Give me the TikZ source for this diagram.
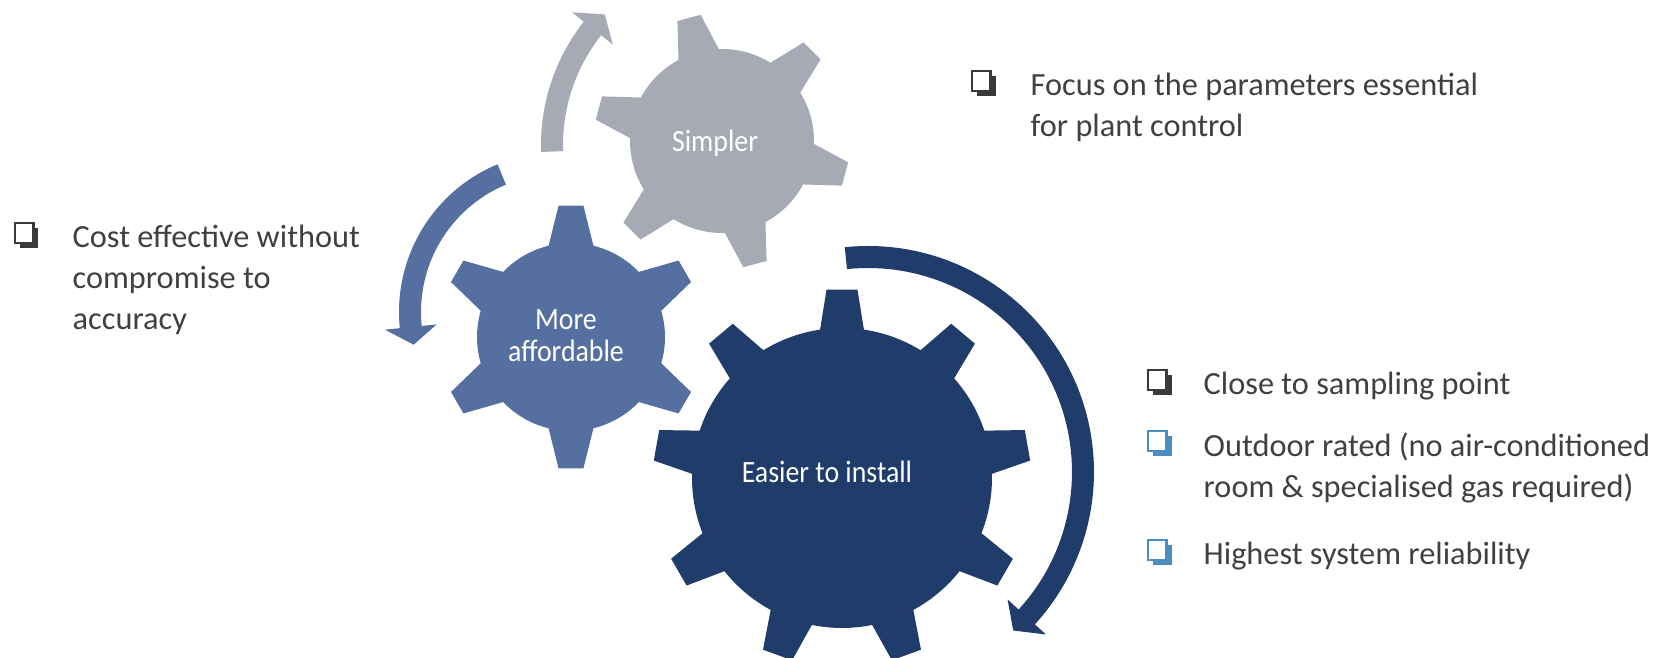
\documentclass[tikz,border=0pt]{standalone}
\usepackage{fontspec}
\setmainfont{Carlito}
\newfontfamily\gearfont{Carlito}[FakeStretch=0.9]
\definecolor{gearlight}{RGB}{166,170,181}
\definecolor{gearmid}{RGB}{85,112,160}
\definecolor{geardark}{RGB}{31,60,106}
\definecolor{textgray}{RGB}{64,64,64}
\definecolor{bulletdark}{RGB}{58,58,58}
\definecolor{bulletblue}{RGB}{74,142,192}

\tikzset{
  item/.style={anchor=base west, align=left, inner sep=0pt, text=textgray,
    font=\fontsize{9.2}{11.8}\selectfont},
  gearlabel/.style={anchor=base, align=center, inner sep=0pt, text=white,
    font=\gearfont\fontsize{8.8}{9.2}\selectfont},
  qbox/.pic={
    \fill (0.05,-0.05) rectangle (0.235,0.15);
    \filldraw[fill=white, line width=0.8pt] (0,0) rectangle (0.185,0.20);
  }
}

\begin{document}
\begin{tikzpicture}

\useasboundingbox (0,0) rectangle (16.79,6.58);

% Circular arrows (shaft half width 0.11, head half width 0.26)
\fill[gearlight, shift={(7.40,5.13)}]
  (182:1.99) arc[start angle=182, end angle=141.7, radius=1.99]
  -- (141.7:2.14) -- (136:1.88) -- (141.7:1.62) -- (141.7:1.77)
  arc[start angle=141.7, end angle=182, radius=1.77] -- cycle;

\fill[gearmid, shift={(5.59,3.46)}]
  (112.6:1.60) arc[start angle=112.6, end angle=185.8, radius=1.60]
  -- (185.8:1.75) -- (192.7:1.49) -- (185.8:1.23) -- (185.8:1.38)
  arc[start angle=185.8, end angle=112.6, radius=1.38] -- cycle;

\fill[geardark, shift={(8.68,1.86)}]
  (95.9:2.26) arc[start angle=95.9, end angle=-42.4, radius=2.26]
  -- (-42.4:2.41) -- (-47.5:2.15) -- (-42.4:1.89) -- (-42.4:2.04)
  arc[start angle=-42.4, end angle=95.9, radius=2.04] -- cycle;

% Gear: simpler, 6 teeth
\fill[gearlight, shift={(7.22,5.17)}]
  (92:0.92)
  \foreach \a in {105,165,...,405} {
    -- (\a-5.4:1.28) -- (\a+5.4:1.28) -- (\a+13.2:0.92)
    arc[start angle=\a+13.2, end angle=\a+46.8, radius=0.92]
  } -- cycle;

% Gear: more affordable, 6 teeth
\fill[gearmid, shift={(5.71,3.21)}]
  (76.2:0.94)
  \foreach \a in {90,150,...,390} {
    -- (\a-5.4:1.32) -- (\a+5.4:1.32) -- (\a+13.8:0.94)
    arc[start angle=\a+13.8, end angle=\a+46.2, radius=0.94]
  } -- cycle;

% Gear: easier to install, 9 teeth
\fill[geardark, shift={(8.42,1.80)}]
  (81.6:1.50)
  \foreach \a in {90,130,...,410} {
    -- (\a-4.7:1.89) -- (\a+4.7:1.89) -- (\a+8.4:1.50)
    arc[start angle=\a+8.4, end angle=\a+31.6, radius=1.50]
  } -- cycle;

% Labels inside gears (base = last line)
\node[gearlabel] (simpler) at (7.15,5.06) {Simpler};
\node[gearlabel] (affordable) at (5.66,2.96) {More\\affordable};
\node[gearlabel] (install) at (8.27,1.75) {Easier to install};

% Bullet texts (base = last line)
\node[item] (cost) at (0.72,3.28) {Cost effective without\\compromise to\\accuracy};
\node[item] (focus) at (10.30,5.21) {Focus on the parameters essential\\for plant control};
\node[item] (close) at (12.03,2.63) {Close to sampling point};
\node[item] (outdoor) at (12.03,1.60) {Outdoor rated (no air-conditioned\\room \& specialised gas required)};
\node[item] (highest) at (12.03,0.93) {Highest system reliability};

% Bullets, level with the first line
\pic[color=bulletdark] at ([shift={(-0.57,0.87)}]cost.base west) {qbox};
\pic[color=bulletdark] at ([shift={(-0.58,0.46)}]focus.base west) {qbox};
\pic[color=bulletdark] at ([shift={(-0.55,0.05)}]close.base west) {qbox};
\pic[color=bulletblue] at ([shift={(-0.55,0.47)}]outdoor.base west) {qbox};
\pic[color=bulletblue] at ([shift={(-0.55,0.05)}]highest.base west) {qbox};

\end{tikzpicture}
\end{document}
